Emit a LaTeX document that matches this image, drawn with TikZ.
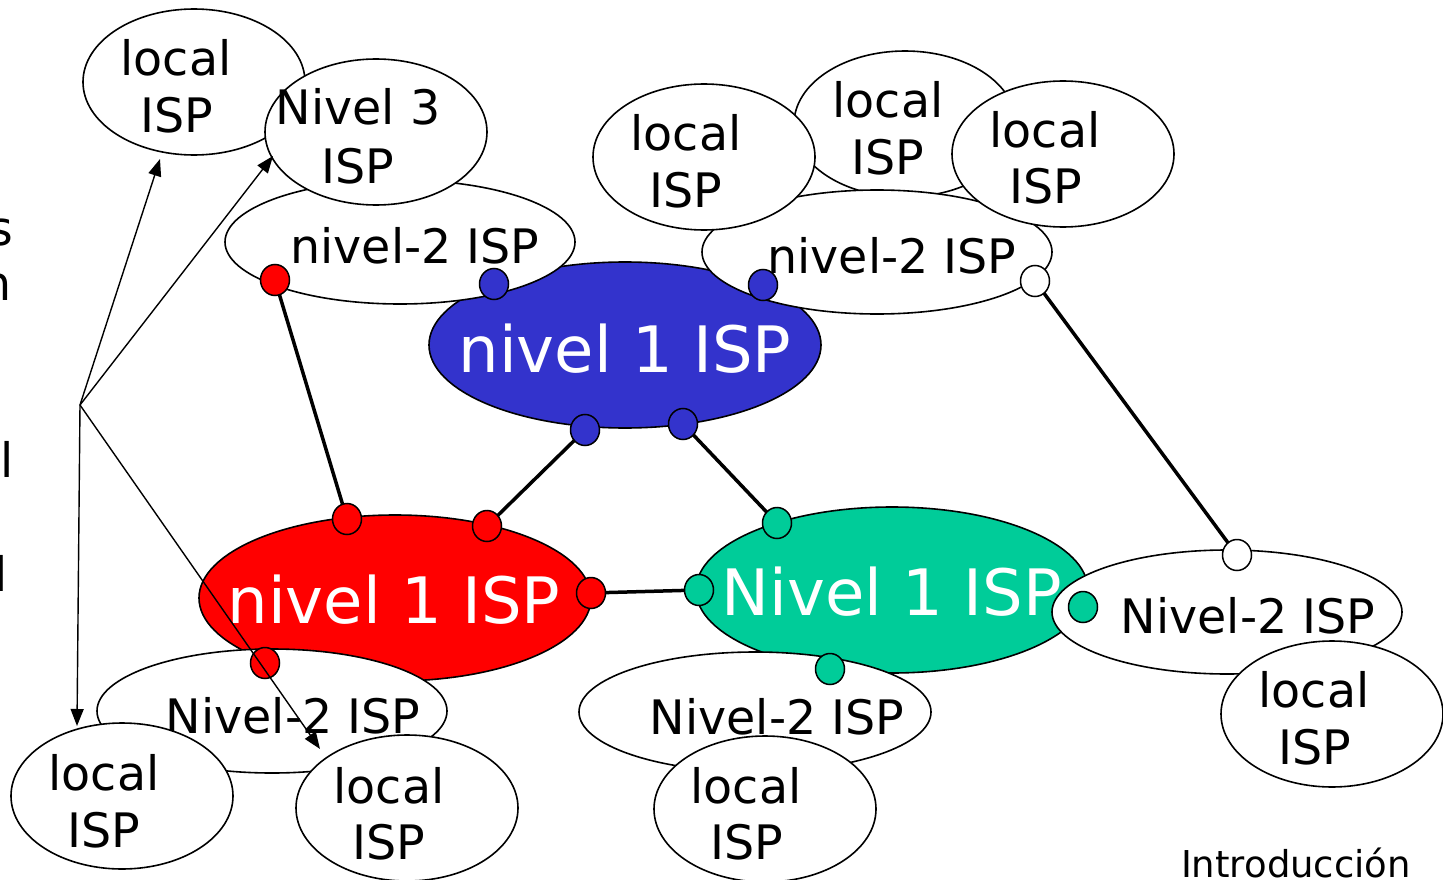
\documentclass[tikz,border=0pt]{standalone}
\usepackage{fontspec}
\setmainfont{DejaVu Sans}
\usetikzlibrary{shapes.geometric,arrows.meta}
\definecolor{isblue}{RGB}{51,51,204}
\definecolor{isred}{RGB}{255,0,0}
\definecolor{isgreen}{RGB}{0,204,153}
\tikzset{
  isp/.style={ellipse, draw=black, line width=1.6pt, fill=white, inner sep=0pt},
  lisp/.style={isp, minimum width=222pt, minimum height=146pt},
  nisp/.style={isp, minimum width=350pt, minimum height=124pt},
  tisp/.style={isp, minimum width=392pt, minimum height=166pt},
  small/.style={font=\fontsize{47.5}{57}\selectfont, inner sep=0pt, anchor=base},
  big/.style={font=\fontsize{64}{70}\selectfont, text=white, inner sep=0pt, anchor=base},
  port/.style={ellipse, draw=black, line width=1.5pt, minimum width=29pt, minimum height=31pt, inner sep=0pt},
  link/.style={line width=3.5pt},
  ptr/.style={line width=1.4pt, -{Triangle[length=17pt,width=13pt]}},
}
\begin{document}
\begin{tikzpicture}[x=1pt,y=-1pt]
\useasboundingbox (0,0) rectangle (1443,880);
\fill[white] (0,0) rectangle (1443,880);

% cut-off text at the left edge
\node[small, anchor=base west] (cs) at (-12,245) {s};
\node[small, anchor=base west] (cn) at (-19,300) {n};
\node[small, anchor=base west] (cl1) at (0.5,477) {l};
\node[small, anchor=base west] (cl2) at (-5.5,591) {l};

% top blue tier 1
\node[tisp, fill=isblue] (blue) at (625,345) {};
\node[big] (blueT) at (625,372) {nivel 1 ISP};

% top-left group
\node[nisp] (n2tl) at (400,242) {};
\node[small] (n2tlT) at (415,263) {nivel-2 ISP};
\node[lisp] (ltl) at (194,82) {};
\node[small] (ltlA) at (176,76) {local};
\node[small] (ltlB) at (177,133) {ISP};
\node[lisp] (n3) at (376,132) {};
\node[small] (n3A) at (358,125) {Nivel 3};
\node[small] (n3B) at (358,183) {ISP};

% top-right group
\node[lisp] (ltr2) at (905,124) {};
\node[small] (ltr2A) at (888,118) {local};
\node[small] (ltr2B) at (888,175) {ISP};
\node[nisp] (n2tr) at (877,252) {};
\node[small] (n2trT) at (892,273) {nivel-2 ISP};
\node[lisp] (ltr1) at (704,157) {};
\node[small] (ltr1A) at (686,150) {local};
\node[small] (ltr1B) at (686,207) {ISP};
\node[lisp] (ltr3) at (1063,154) {};
\node[small] (ltr3A) at (1045,147) {local};
\node[small] (ltr3B) at (1046,204) {ISP};

% red tier 1 and its group
\node[tisp, fill=isred] (red) at (395,598) {};
\node[big] (redT) at (394,623) {nivel 1 ISP};
\node[nisp] (n2bl) at (272,711) {};
\node[small] (n2blT) at (293,733) {Nivel-2 ISP};
\node[lisp] (lbl) at (122,796) {};
\node[small] (lblA) at (104,790) {local};
\node[small] (lblB) at (104,847) {ISP};
\node[lisp] (lb2) at (407,808) {};
\node[small] (lb2A) at (389,803) {local};
\node[small] (lb2B) at (389,859) {ISP};

% green tier 1 and its groups
\node[tisp, fill=isgreen] (green) at (892,590) {};
\node[big] (greenT) at (892,615) {Nivel 1 ISP};
\node[nisp, minimum width=352pt, minimum height=120pt] (n2bm) at (755,712) {};
\node[small] (n2bmT) at (777,734) {Nivel-2 ISP};
\node[lisp] (lbm) at (765,809) {};
\node[small] (lbmA) at (746,803) {local};
\node[small] (lbmB) at (747,859) {ISP};
\node[nisp] (n2r) at (1227,612) {};
\node[small] (n2rT) at (1248,633) {Nivel-2 ISP};
\node[lisp] (lr) at (1332,714) {};
\node[small] (lrA) at (1314,707) {local};
\node[small] (lrB) at (1315,764) {ISP};

% ports
\coordinate (pRa) at (275,280);
\coordinate (pBa) at (494,284);
\coordinate (pBb) at (763,285);
\coordinate (pWa) at (1035,281);
\coordinate (pBc) at (585,430);
\coordinate (pBd) at (683,424);
\coordinate (pRb) at (347,519);
\coordinate (pRc) at (487,526);
\coordinate (pRd) at (591,593);
\coordinate (pRe) at (265,663);
\coordinate (pGa) at (777,523);
\coordinate (pGb) at (699,590);
\coordinate (pGc) at (1083,607);
\coordinate (pGd) at (830,669);
\coordinate (pWb) at (1237,555);

% links
\draw[link] (pRa) -- (pRb);
\draw[link] (pBc) -- (pRc);
\draw[link] (pBd) -- (pGa);
\draw[link] (pRd) -- (pGb);
\draw[link] (pWa) -- (pWb);

\node[port, fill=isred] (cRa) at (pRa) {};
\node[port, fill=isblue] (cBa) at (pBa) {};
\node[port, fill=isblue] (cBb) at (pBb) {};
\node[port, fill=white] (cWa) at (pWa) {};
\node[port, fill=isblue] (cBc) at (pBc) {};
\node[port, fill=isblue] (cBd) at (pBd) {};
\node[port, fill=isred] (cRb) at (pRb) {};
\node[port, fill=isred] (cRc) at (pRc) {};
\node[port, fill=isred] (cRd) at (pRd) {};
\node[port, fill=isred] (cRe) at (pRe) {};
\node[port, fill=isgreen] (cGa) at (pGa) {};
\node[port, fill=isgreen] (cGb) at (pGb) {};
\node[port, fill=isgreen] (cGc) at (pGc) {};
\node[port, fill=isgreen] (cGd) at (pGd) {};
\node[port, fill=white] (cWb) at (pWb) {};

% pointer arrows
\coordinate (src) at (80,405);
\coordinate (tA) at (160,159);
\coordinate (tB) at (273,156);
\coordinate (tC) at (77,726);
\coordinate (tD) at (320,749);
\draw[ptr] (src) -- (tA);
\draw[ptr] (src) -- (tB);
\draw[ptr] (src) -- (tC);
\draw[ptr] (src) -- (tD);

\node[font=\fontsize{37}{44}\selectfont, inner sep=0pt, anchor=base] (intro) at (1296,877) {Introducción};
\end{tikzpicture}
\end{document}
